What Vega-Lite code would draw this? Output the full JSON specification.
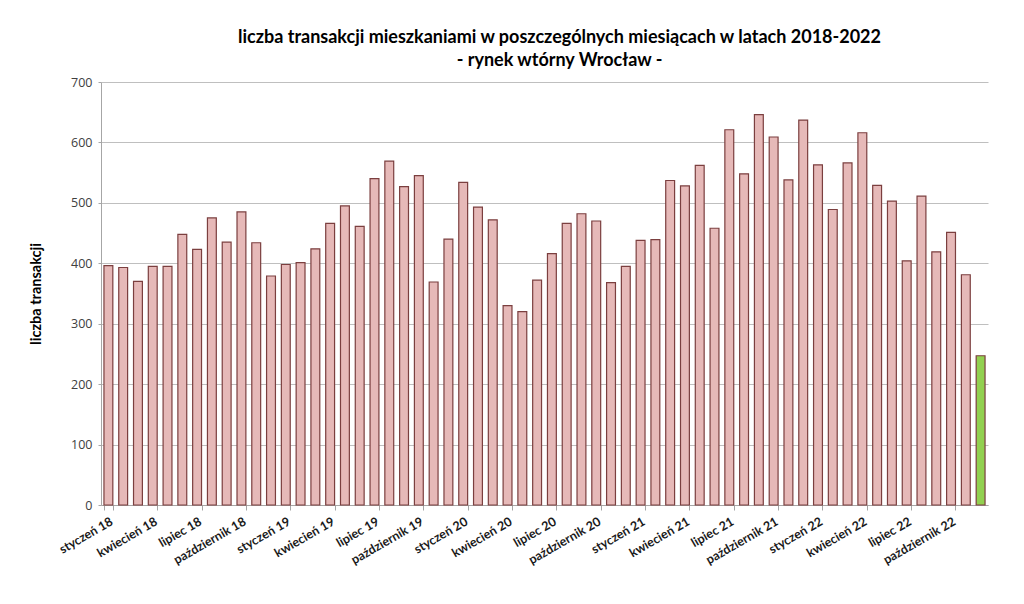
{
  "$schema": "https://vega.github.io/schema/vega-lite/v6.json",
  "width": 887,
  "height": 423,
  "autosize": {"type": "none"},
  "padding": {"left": 101, "top": 82, "right": 36, "bottom": 99},
  "background": "white",
  "title": {
    "text": ["liczba transakcji mieszkaniami w poszczególnych miesiącach w latach 2018-2022", "- rynek wtórny Wrocław -"],
    "font": "Lato",
    "fontSize": 18,
    "fontWeight": "bold",
    "color": "#000000",
    "anchor": "middle",
    "dx": 15,
    "offset": 6,
    "lineHeight": 23
  },
  "data": {
    "values": [
      {"miesiac": "styczeń 18", "liczba": 396},
      {"miesiac": "luty 18", "liczba": 393},
      {"miesiac": "marzec 18", "liczba": 370},
      {"miesiac": "kwiecień 18", "liczba": 395},
      {"miesiac": "maj 18", "liczba": 395},
      {"miesiac": "czerwiec 18", "liczba": 448},
      {"miesiac": "lipiec 18", "liczba": 423},
      {"miesiac": "sierpień 18", "liczba": 475},
      {"miesiac": "wrzesień 18", "liczba": 435},
      {"miesiac": "październik 18", "liczba": 485},
      {"miesiac": "listopad 18", "liczba": 434},
      {"miesiac": "grudzień 18", "liczba": 379},
      {"miesiac": "styczeń 19", "liczba": 398},
      {"miesiac": "luty 19", "liczba": 401},
      {"miesiac": "marzec 19", "liczba": 424},
      {"miesiac": "kwiecień 19", "liczba": 466},
      {"miesiac": "maj 19", "liczba": 495},
      {"miesiac": "czerwiec 19", "liczba": 461},
      {"miesiac": "lipiec 19", "liczba": 540},
      {"miesiac": "sierpień 19", "liczba": 569},
      {"miesiac": "wrzesień 19", "liczba": 527},
      {"miesiac": "październik 19", "liczba": 545},
      {"miesiac": "listopad 19", "liczba": 369},
      {"miesiac": "grudzień 19", "liczba": 440},
      {"miesiac": "styczeń 20", "liczba": 534},
      {"miesiac": "luty 20", "liczba": 493},
      {"miesiac": "marzec 20", "liczba": 472},
      {"miesiac": "kwiecień 20", "liczba": 330},
      {"miesiac": "maj 20", "liczba": 320},
      {"miesiac": "czerwiec 20", "liczba": 372},
      {"miesiac": "lipiec 20", "liczba": 416},
      {"miesiac": "sierpień 20", "liczba": 466},
      {"miesiac": "wrzesień 20", "liczba": 482},
      {"miesiac": "październik 20", "liczba": 470},
      {"miesiac": "listopad 20", "liczba": 368},
      {"miesiac": "grudzień 20", "liczba": 395},
      {"miesiac": "styczeń 21", "liczba": 438},
      {"miesiac": "luty 21", "liczba": 439},
      {"miesiac": "marzec 21", "liczba": 537},
      {"miesiac": "kwiecień 21", "liczba": 528},
      {"miesiac": "maj 21", "liczba": 562},
      {"miesiac": "czerwiec 21", "liczba": 458},
      {"miesiac": "lipiec 21", "liczba": 621},
      {"miesiac": "sierpień 21", "liczba": 548},
      {"miesiac": "wrzesień 21", "liczba": 646},
      {"miesiac": "październik 21", "liczba": 609},
      {"miesiac": "listopad 21", "liczba": 538},
      {"miesiac": "grudzień 21", "liczba": 637},
      {"miesiac": "styczeń 22", "liczba": 563},
      {"miesiac": "luty 22", "liczba": 489},
      {"miesiac": "marzec 22", "liczba": 566},
      {"miesiac": "kwiecień 22", "liczba": 616},
      {"miesiac": "maj 22", "liczba": 529},
      {"miesiac": "czerwiec 22", "liczba": 503},
      {"miesiac": "lipiec 22", "liczba": 404},
      {"miesiac": "sierpień 22", "liczba": 511},
      {"miesiac": "wrzesień 22", "liczba": 419},
      {"miesiac": "październik 22", "liczba": 451},
      {"miesiac": "listopad 22", "liczba": 381},
      {"miesiac": "grudzień 22", "liczba": 247}
    ]
  },
  "mark": {"type": "bar", "stroke": "#7b3f3f", "strokeWidth": 1.2},
  "encoding": {
    "x": {
      "field": "miesiac",
      "type": "ordinal",
      "sort": null,
      "scale": {"paddingInner": 0.4, "paddingOuter": 0.2},
      "axis": {
        "title": null,
        "values": ["styczeń 18", "kwiecień 18", "lipiec 18", "październik 18", "styczeń 19", "kwiecień 19", "lipiec 19", "październik 19", "styczeń 20", "kwiecień 20", "lipiec 20", "październik 20", "styczeń 21", "kwiecień 21", "lipiec 21", "październik 21", "styczeń 22", "kwiecień 22", "lipiec 22", "październik 22"],
        "labelAngle": -30,
        "labelAlign": "right",
        "labelBaseline": "top",
        "labelFont": "Lato",
        "labelFontSize": 12.5,
        "labelFontWeight": "bold",
        "labelColor": "#1a1a1a",
        "labelPadding": 5,
        "tickBand": "extent",
        "tickSize": 5,
        "tickColor": "#a6a6a6",
        "domainColor": "#a6a6a6"
      }
    },
    "y": {
      "field": "liczba",
      "type": "quantitative",
      "scale": {"domain": [0, 700]},
      "axis": {
        "title": "liczba transakcji",
        "titleFont": "Lato",
        "titleFontSize": 14.5,
        "titleFontWeight": "bold",
        "titleColor": "#000000",
        "titlePadding": 27,
        "tickCount": 7,
        "labelFont": "Open Sans",
        "labelFontSize": 12.5,
        "labelColor": "#404040",
        "labelPadding": 6,
        "tickSize": 3,
        "tickColor": "#a6a6a6",
        "domainColor": "#a6a6a6",
        "gridColor": "#bfbfbf",
        "gridWidth": 1.2
      }
    },
    "fill": {
      "condition": {"test": "datum.miesiac == 'grudzień 22'", "value": "#92d050"},
      "value": "#e6b9b8"
    }
  },
  "config": {
    "view": {"stroke": null}
  }
}
